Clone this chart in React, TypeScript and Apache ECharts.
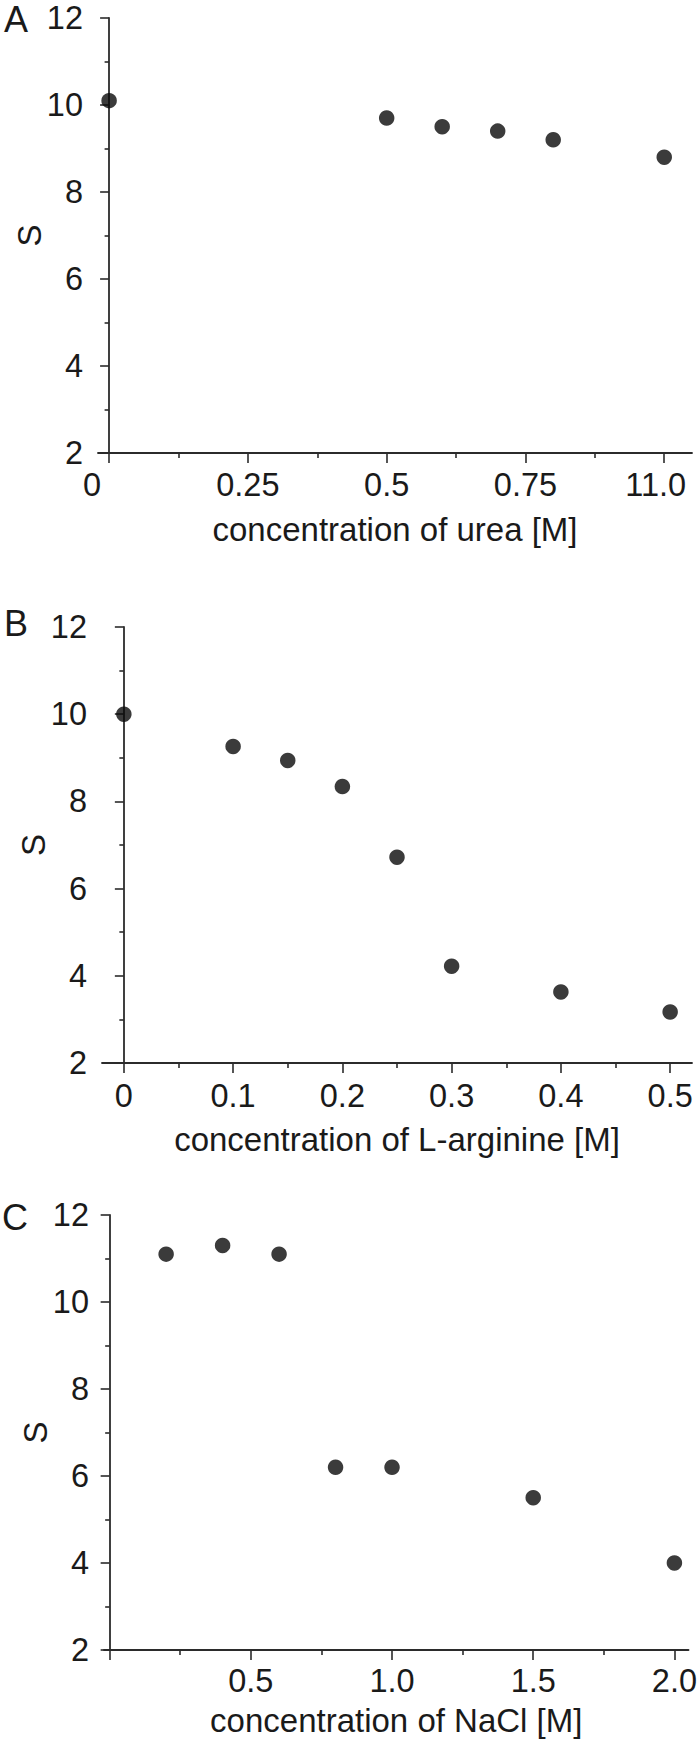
import React, { useEffect, useRef } from "react";
import * as echarts from "echarts";

// ---- Data ----
const ureaConc = [0, 0.5, 0.6, 0.7, 0.8, 1.0];
const ureaS = [10.1, 9.7, 9.5, 9.4, 9.2, 8.8];

const argConc = [0, 0.1, 0.15, 0.2, 0.25, 0.3, 0.4, 0.5];
const argS = [10.0, 9.26, 8.94, 8.34, 6.72, 4.22, 3.63, 3.17];

const naclConc = [0.2, 0.4, 0.6, 0.8, 1.0, 1.5, 2.0];
const naclS = [11.1, 11.3, 11.1, 6.2, 6.2, 5.5, 4.0];

// ---- Tick values / labels ----
const ureaTicks = [0, 0.25, 0.5, 0.75, 1.0];
const ureaTickLabels = ["0", "0.25", "0.5", "0.75", "11.0"];
const ureaMinor = [0.125, 0.375, 0.625, 0.875];

const argTicks = [0, 0.1, 0.2, 0.3, 0.4, 0.5];
const argTickLabels = ["0", "0.1", "0.2", "0.3", "0.4", "0.5"];
const argMinor = [0.05, 0.15, 0.25, 0.35, 0.45];

const naclTicks = [0, 0.5, 1.0, 1.5, 2.0];
const naclLabelValues = [0.5, 1.0, 1.5, 2.0];
const naclTickLabels = ["0.5", "1.0", "1.5", "2.0"];
const naclMinor = [0.25, 0.75, 1.25, 1.75];

const FONT = "'Liberation Sans', Arial, Helvetica, sans-serif";
const INK = "#1a1a1a";
const AXIS = "#2b2b2b";
const FS = 32.5;

function pairs(xs: number[], ys: number[]) {
  return xs.map((x, i) => [x, ys[i]]);
}

// labels of panel A that sit left of their tick in the original: [label, token width]
const shiftedA: Record<string, number> = { "0": 52, "11.0": 78 };

function majorX(
  gridIndex: number,
  min: number,
  max: number,
  ticks: number[],
  labelVals: number[],
  labels: string[],
  name: string,
  nameGap: number,
  labelMargin: number,
  shifted?: Record<string, number>
) {
  const rich: any = {
    n: { fontSize: FS, fontFamily: FONT, color: INK },
  };
  const keys = shifted ? Object.keys(shifted) : [];
  keys.forEach((k, i) => {
    rich["s" + i] = {
      fontSize: FS,
      fontFamily: FONT,
      color: INK,
      width: (shifted as any)[k],
      align: "left",
    };
  });
  return {
    type: "value",
    gridIndex,
    position: "bottom",
    min,
    max,
    axisLine: { show: true, onZero: false, lineStyle: { color: AXIS, width: 1.8 } },
    axisTick: { show: true, customValues: ticks, length: 10, lineStyle: { color: AXIS, width: 1.6 } },
    axisLabel: {
      show: true,
      customValues: labelVals,
      margin: labelMargin,
      fontSize: FS,
      fontFamily: FONT,
      color: INK,
      rich,
      formatter: (v: number) => {
        const idx = labelVals.findIndex((t) => Math.abs(t - v) < 1e-9);
        const s = idx >= 0 ? labels[idx] : "";
        const k = keys.indexOf(s);
        if (k >= 0) return "{s" + k + "|" + s + "}";
        return "{n|" + s + "}";
      },
    },
    splitLine: { show: false },
    name,
    nameLocation: "middle",
    nameGap,
    nameMoveOverlap: false,
    nameTextStyle: { fontSize: 33, fontFamily: FONT, color: INK },
  };
}

function minorX(gridIndex: number, min: number, max: number, ticks: number[]) {
  return {
    type: "value",
    gridIndex,
    position: "bottom",
    min,
    max,
    axisLine: { show: false, onZero: false },
    axisTick: { show: true, customValues: ticks, length: 5, lineStyle: { color: AXIS, width: 1.6 } },
    axisLabel: { show: false },
    splitLine: { show: false },
  };
}

function yAx(gridIndex: number) {
  return {
    type: "value",
    gridIndex,
    min: 2,
    max: 12,
    interval: 2,
    axisLine: { show: true, lineStyle: { color: AXIS, width: 1.8 } },
    axisTick: { show: true, length: 9, lineStyle: { color: AXIS, width: 1.6 } },
    minorTick: { show: true, splitNumber: 2, length: 4.5, lineStyle: { color: AXIS, width: 1.6 } },
    axisLabel: { margin: 15, fontSize: FS, fontFamily: FONT, color: INK },
    splitLine: { show: false },
    minorSplitLine: { show: false },
    name: "S",
    nameLocation: "middle",
    nameGap: 52,
    nameMoveOverlap: false,
    nameTextStyle: { fontSize: 33, fontFamily: FONT, color: INK },
  };
}

function scatter(xIdx: number, yIdx: number, data: number[][]) {
  return {
    type: "scatter",
    xAxisIndex: xIdx,
    yAxisIndex: yIdx,
    data,
    symbol: "circle",
    symbolSize: 15.5,
    itemStyle: { color: "#0a0a0a" },
  };
}

function panelLabel(text: string, x: number, y: number) {
  return {
    type: "text",
    x,
    y,
    style: {
      text,
      fontSize: 36,
      fontFamily: FONT,
      fill: INK,
      align: "center",
      verticalAlign: "middle",
    },
  };
}

export default function App() {
  const ref = useRef<HTMLDivElement>(null);
  useEffect(() => {
    if (!ref.current) return;
    const chart = echarts.init(ref.current, undefined, { renderer: "svg" });
    const option: any = {
      animation: false,
      backgroundColor: "#ffffff",
      grid: [
        { left: 98, top: 18, width: 594, height: 435 },
        { left: 102, top: 627, width: 590, height: 436 },
        { left: 104, top: 1215, width: 590, height: 435 },
      ],
      xAxis: [
        majorX(0, -0.02, 1.05, ureaTicks, ureaTicks, ureaTickLabels, "concentration of urea [M]", 60, 15, shiftedA),
        minorX(0, -0.02, 1.05, ureaMinor),
        majorX(1, -0.02, 0.52, argTicks, argTicks, argTickLabels, "concentration of L-arginine [M]", 60, 16),
        minorX(1, -0.02, 0.52, argMinor),
        majorX(2, -0.02, 2.05, naclTicks, naclLabelValues, naclTickLabels, "concentration of NaCl [M]", 54, 14),
        minorX(2, -0.02, 2.05, naclMinor),
      ],
      yAxis: [yAx(0), yAx(1), yAx(2)],
      series: [
        scatter(0, 0, pairs(ureaConc, ureaS)),
        scatter(2, 1, pairs(argConc, argS)),
        scatter(4, 2, pairs(naclConc, naclS)),
      ],
      graphic: [
        panelLabel("A", 16, 19),
        panelLabel("B", 16, 623.5),
        panelLabel("C", 15, 1217),
      ],
    };
    chart.setOption(option);
    return () => chart.dispose();
  }, []);
  return (
    <div
      ref={ref}
      style={{ position: "absolute", left: 0, top: 0, width: 700, height: 1740, background: "#fff" }}
    />
  );
}
